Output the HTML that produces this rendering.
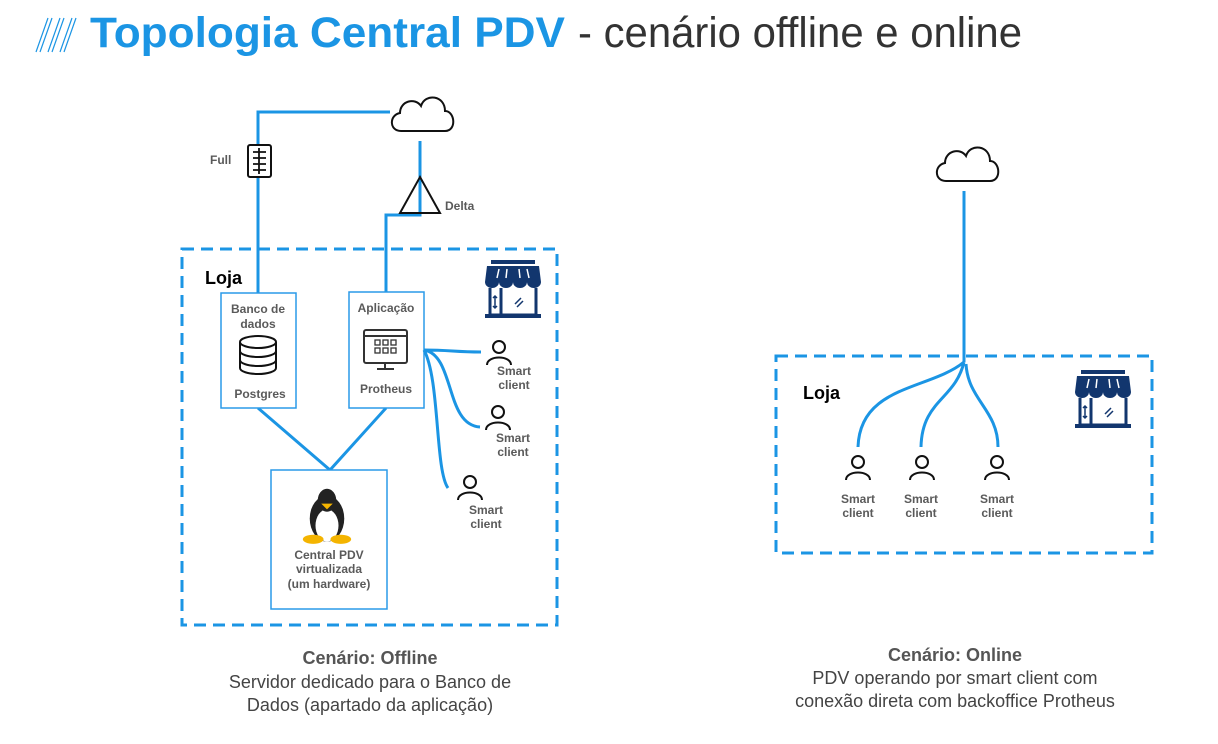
<!DOCTYPE html>
<html><head><meta charset="utf-8"><style>
body{margin:0;background:#fff;}
svg{display:block;font-family:"Liberation Sans",sans-serif;}
.lb{font-size:12px;font-weight:bold;fill:#5a5a5a;text-anchor:middle;}
.bl{stroke:#1b95e4;stroke-width:3;fill:none;}
.bx{stroke:#2a9ae8;stroke-width:1.5;fill:#fff;}
.k{stroke:#111;stroke-width:2;fill:none;}
</style></head><body>
<svg width="1218" height="744" viewBox="0 0 1218 744">
<defs>
<g id="cloud"><path d="M10,38 C-2,38 -2,22 9,20 C9,8 24,4 30,13 C34,0 54,2 54,18 C64,18 66,38 54,38 Z" class="k"/></g>
<g id="user"><circle cx="0" cy="-6" r="6" class="k"/><path d="M-12,12 C-12,2 12,2 12,12" class="k"/></g>
<g id="store">
<rect x="6" y="0" width="44" height="4" fill="#12366e"/>
<path d="M2,6 H54 L56,22 H0 Z" fill="#12366e"/>
<path d="M0,22 a7,6 0 0 0 14,0 a7,6 0 0 0 14,0 a7,6 0 0 0 14,0 a7,6 0 0 0 14,0Z" fill="#12366e"/>
<path d="M14,9 l-2,9 M22,9 l-1,9 M34,9 l1,9 M42,9 l2,9" stroke="#fff" stroke-width="1.5"/>
<path d="M5,28 V55 H51 V28 M16,28 V55 M5,55 H51" stroke="#12366e" stroke-width="3" fill="none"/>
<rect x="0" y="54" width="56" height="4" fill="#12366e"/>
<path d="M10,36 v12 M8,38 l2,-2 2,2 M8,46 l2,2 2,-2 M30,44 l6,-6 M32,47 l6,-6" stroke="#12366e" stroke-width="1.5" fill="none"/>
</g>
</defs>

<!-- title -->
<g stroke="#1b95e4" stroke-width="1.2" fill="none">
<path d="M36,52 L48,18 M40,52 L52,18 M48,52 L60,18 M52,52 L64,18 M60,52 L72,18 M64,52 L76,18"/>
</g>
<text x="90" y="47" font-size="43" font-weight="bold" fill="#1b95e4" textLength="475" lengthAdjust="spacingAndGlyphs">Topologia Central PDV</text>
<text x="578" y="47" font-size="43" fill="#333" textLength="444" lengthAdjust="spacingAndGlyphs">- cenário offline e online</text>

<!-- left -->
<use href="#cloud" x="391" y="93"/>
<path class="bl" d="M390,112 H258 V295"/>
<rect x="248" y="145" width="23" height="32" rx="2" fill="#fff" stroke="#111" stroke-width="2"/>
<path d="M253,152 h13 M253,158 h13 M253,164 h13 M253,170 h13 M259,148 v26" stroke="#111" stroke-width="1.8"/>
<text x="210" y="164" font-size="12" font-weight="bold" fill="#5a5a5a">Full</text>
<path class="bl" d="M420,141 V215 H386 V292"/>
<path d="M420,177 L440,213 H400 Z" fill="none" stroke="#111" stroke-width="2"/>
<text x="445" y="210" font-size="12" font-weight="bold" fill="#5a5a5a">Delta</text>

<rect x="182" y="249" width="375" height="376" fill="none" stroke="#1b95e4" stroke-width="3" stroke-dasharray="12 7"/>
<text x="205" y="284" font-size="18" font-weight="bold" fill="#000">Loja</text>
<use href="#store" x="485" y="260"/>

<path class="bl" d="M258,408 L330,470 L386,408" stroke-width="2.5"/>
<rect class="bx" x="221" y="293" width="75" height="115"/>
<text class="lb" x="258" y="313">Banco de</text>
<text class="lb" x="258" y="328">dados</text>
<g class="k"><ellipse cx="258" cy="342" rx="18" ry="6"/><path d="M240,342 V368 A18,6 0 0 0 276,368 V342 M240,351 A18,6 0 0 0 276,351 M240,360 A18,6 0 0 0 276,360"/></g>
<text class="lb" x="260" y="398">Postgres</text>

<rect class="bx" x="349" y="292" width="75" height="116"/>
<text class="lb" x="386" y="312">Aplicação</text>
<rect x="364" y="330" width="43" height="33" rx="2" fill="none" stroke="#333" stroke-width="2"/>
<path d="M364,336 h43 M385,363 v5 M377,369 h17" stroke="#333" stroke-width="2"/>
<g fill="none" stroke="#333" stroke-width="1.3"><rect x="375" y="340" width="5" height="5"/><rect x="383" y="340" width="5" height="5"/><rect x="391" y="340" width="5" height="5"/><rect x="375" y="348" width="5" height="5"/><rect x="383" y="348" width="5" height="5"/><rect x="391" y="348" width="5" height="5"/></g>
<text class="lb" x="386" y="393" font-size="13">Protheus</text>

<path class="bl" stroke-width="2.5" d="M424,350 C450,350 455,352 481,352 M424,350 C455,355 445,425 480,427 M424,350 C440,380 435,470 448,488"/>
<use href="#user" x="499" y="353"/>
<text class="lb" x="514" y="375">Smart</text><text class="lb" x="514" y="389">client</text>
<use href="#user" x="498" y="418"/>
<text class="lb" x="513" y="442">Smart</text><text class="lb" x="513" y="456">client</text>
<use href="#user" x="470" y="488"/>
<text class="lb" x="486" y="514">Smart</text><text class="lb" x="486" y="528">client</text>

<rect class="bx" x="271" y="470" width="116" height="139"/>
<g transform="translate(327,514) scale(1.15)">
<ellipse cx="0" cy="4" rx="15" ry="20" fill="#222"/>
<ellipse cx="0" cy="10" rx="10" ry="14" fill="#fff"/>
<ellipse cx="0" cy="-12" rx="8" ry="10" fill="#222"/>
<path d="M-5,-9 L5,-9 L0,-4Z" fill="#f4b400"/>
<ellipse cx="-12" cy="22" rx="9" ry="4" fill="#f4b400"/><ellipse cx="12" cy="22" rx="9" ry="4" fill="#f4b400"/>
</g>
<text class="lb" x="329" y="559">Central PDV</text>
<text class="lb" x="329" y="573">virtualizada</text>
<text class="lb" x="329" y="588">(um hardware)</text>

<text x="370" y="664" font-size="18" font-weight="bold" fill="#555" text-anchor="middle">Cenário: Offline</text>
<text x="370" y="688" font-size="18" fill="#444" text-anchor="middle">Servidor dedicado para o Banco de</text>
<text x="370" y="711" font-size="18" fill="#444" text-anchor="middle">Dados (apartado da aplicação)</text>

<!-- right -->
<use href="#cloud" x="936" y="143"/>
<path class="bl" d="M964,191 V362"/>
<rect x="776" y="356" width="376" height="197" fill="none" stroke="#1b95e4" stroke-width="3" stroke-dasharray="12 7"/>
<text x="803" y="399" font-size="18" font-weight="bold" fill="#000">Loja</text>
<use href="#store" x="1075" y="370"/>
<path class="bl" d="M964,362 C930,390 860,385 858,447 M964,362 C955,400 922,400 921,447 M966,364 C968,400 998,410 998,447"/>
<use href="#user" x="858" y="468"/>
<text class="lb" x="858" y="503">Smart</text><text class="lb" x="858" y="517">client</text>
<use href="#user" x="922" y="468"/>
<text class="lb" x="921" y="503">Smart</text><text class="lb" x="921" y="517">client</text>
<use href="#user" x="997" y="468"/>
<text class="lb" x="997" y="503">Smart</text><text class="lb" x="997" y="517">client</text>

<text x="955" y="661" font-size="18" font-weight="bold" fill="#555" text-anchor="middle">Cenário: Online</text>
<text x="955" y="684" font-size="18" fill="#444" text-anchor="middle">PDV operando por smart client com</text>
<text x="955" y="707" font-size="18" fill="#444" text-anchor="middle">conexão direta com backoffice Protheus</text>
</svg>
</body></html>
